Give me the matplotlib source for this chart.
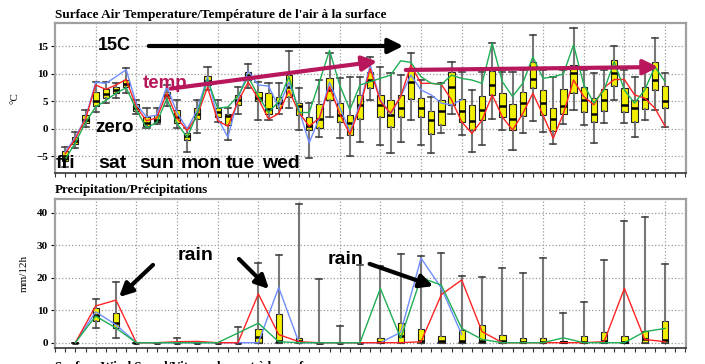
import matplotlib
matplotlib.use("Agg")
import matplotlib.pyplot as plt

plt.rcParams['font.family'] = ['Liberation Serif', 'DejaVu Serif']
plt.rcParams['font.weight'] = 'bold'

# ---- temperature ensemble, one box every 6h (degC) ----
t_lo = [-7.0, -3.5, 0.4, 3.1, 4.7, 5.6, 6.5, 2.8, 0.1, 0.9, 4.1, 0.1, -4.1, -0.8, 7.1, 1.3, -2.0, 2.8, 7.4, 1.6,
        1.6, 2.8, 3.8, -0.2, -5.3, -1.4, 2.2, -1.7, -5.0, -2.3, 5.3, -2.9, -4.4, -2.3, 1.6, -2.9, -4.3, -0.8, 2.7, -1.1,
        -4.1, -2.9, 1.9, -0.2, -3.8, -0.8, 1.5, -0.5, -2.7, 0.9, 3.5, 0.7, -2.6, 1.0, 5.3, 1.0, -1.4, 1.6, 3.5, 0.4]
t_q1 = [-5.8, -2.7, 1.0, 4.1, 5.6, 6.5, 7.6, 3.3, 0.5, 1.2, 5.6, 1.0, -2.0, 1.8, 8.0, 2.2, 0.7, 4.4, 8.9, 5.0,
        2.8, 3.8, 5.9, 2.5, -0.2, 0.1, 5.3, 1.3, -1.1, 1.9, 7.4, 2.2, 0.3, 2.2, 5.4, 2.1, -0.9, 0.7, 4.4, 1.3,
        -0.2, 1.6, 6.2, 2.2, -0.1, 2.3, 7.4, 2.5, -0.3, 2.8, 6.6, 3.1, 1.2, 3.3, 7.8, 3.1, 1.3, 3.6, 7.0, 3.8]
t_med = [-5.0, -2.1, 1.7, 5.0, 6.4, 7.0, 8.1, 3.9, 1.0, 1.6, 6.2, 2.2, -1.3, 2.7, 8.7, 3.0, 2.3, 5.3, 9.9, 5.6,
         3.6, 4.8, 7.7, 4.2, 0.5, 1.8, 7.1, 2.5, 1.0, 4.3, 8.9, 4.4, 2.5, 3.9, 8.6, 3.9, 1.6, 3.3, 7.7, 3.3,
         1.5, 3.5, 8.0, 4.2, 1.9, 4.7, 9.0, 4.8, 1.9, 4.1, 10.1, 5.3, 2.8, 5.3, 10.1, 4.4, 3.8, 5.4, 8.9, 5.0]
t_q3 = [-4.0, -1.4, 2.5, 6.7, 7.2, 7.6, 8.9, 4.5, 2.1, 2.5, 6.8, 3.5, -0.8, 3.8, 9.6, 3.8, 2.8, 6.2, 10.4, 6.8,
        6.6, 5.8, 9.8, 4.7, 2.2, 4.5, 9.2, 4.7, 2.5, 6.1, 10.4, 6.2, 5.3, 6.2, 11.0, 5.6, 3.3, 5.3, 10.4, 5.4,
        4.4, 6.0, 10.6, 6.6, 4.5, 6.8, 12.1, 7.0, 3.8, 7.2, 11.6, 7.7, 5.6, 7.2, 12.5, 7.4, 5.3, 7.7, 12.1, 7.8]
t_hi = [-3.3, -0.5, 3.5, 8.6, 8.6, 8.3, 11.0, 5.3, 3.9, 3.9, 8.0, 5.3, 0.1, 5.3, 11.3, 5.3, 3.8, 7.7, 11.9, 8.6,
        8.3, 8.3, 14.1, 7.5, 4.7, 8.9, 13.8, 9.2, 9.5, 9.5, 13.1, 11.3, 10.1, 9.8, 13.9, 8.9, 5.9, 8.3, 12.2, 10.4,
        7.1, 10.4, 15.6, 10.4, 10.4, 10.7, 17.0, 10.7, 9.5, 10.7, 18.3, 10.7, 10.1, 10.7, 15.0, 10.7, 9.5, 10.7, 16.5, 10.1]

t_blue = [-4.2, -1.5, 2.0, 8.5, 8.3, 9.5, 10.8, 4.5, 2.2, 2.5, 7.7, 3.0, 0.0, 3.5, 9.5, 2.0, -1.5, 5.5, 10.5, 8.0,
          7.8, 4.0, 8.5, 3.5, -2.5, 2.0, 8.5, 4.0, -0.5, 4.5, 11.6, 5.3, 2.7, 5.9, 9.8, 7.1, 6.2, 4.7, 4.4, 5.3]
t_red = [-4.5, -1.8, 1.8, 8.0, 7.2, 8.0, 9.0, 4.0, 1.5, 2.0, 6.5, 2.0, -0.3, 2.5, 7.6, 1.5, 0.5, 5.0, 8.5, 5.5,
         1.8, 2.8, 7.0, 3.0, 0.5, 2.0, 7.7, 2.8, -1.0, 4.0, 11.0, 5.0, 2.9, 5.9, 11.6, 8.3, 8.3, 8.1, 5.3, 1.3,
         -0.8, 1.6, 6.2, 2.2, -0.2, 2.8, 6.5, 2.5, -1.7, 2.8, 8.9, 5.9, 4.4, 7.5, 9.0, 9.0, 6.2, 5.6, 3.8, 0.5]
t_green = [-5.5, -2.5, 1.2, 4.0, 5.2, 6.5, 7.5, 3.5, 0.2, 1.2, 5.5, 1.0, -1.5, 2.8, 9.0, 3.8, 4.0, 6.0, 9.5, 6.0,
           3.0, 5.0, 9.5, 3.0, 3.0, 8.5, 14.3, 8.0, 3.5, 8.0, 8.6, 9.2, 9.8, 12.4, 12.1, 9.5, 8.3, 8.1, 9.8, 9.2,
           8.9, 8.3, 15.6, 8.6, 5.9, 8.3, 13.1, 9.2, 9.5, 10.0, 15.3, 8.1, 4.7, 7.1, 12.2, 7.1, 4.7, 7.1, 11.3, 8.6]

# ---- precipitation ensemble, one box every 12h (mm/12h) ----
p_lo = [0, 4.6, 1.5] + [0] * 27
p_q1 = [0, 6.7, 4.6] + [0] * 27
p_med = [0, 8.5, 6.0, 0, 0, 0, 0, 0, 0, 1.8, 0.5, 0.5, 0, 0, 0,
         0.3, 2.0, 0.5, 0.4, 0.5, 0.5, 0.4, 0.3, 0.3, 0.1, 0.3, 0.4, 0.3, 1.0, 0.8]
p_q3 = [0, 10.6, 9.0, 0, 0, 0, 0, 0, 0.3, 4.2, 8.7, 1.3, 0, 0.2, 0,
        1.4, 6.0, 4.2, 2.2, 3.9, 5.4, 2.4, 1.4, 1.4, 0.4, 2.2, 3.3, 2.2, 3.5, 6.6]
p_hi = [0, 13.4, 18.6, 0, 0, 1.3, 0, 0, 4.9, 24.4, 27.0, 42.7, 19.5, 5.2, 23.9,
        23.7, 27.2, 26.7, 27.5, 20.6, 20.3, 22.9, 21.3, 26.2, 9.0, 12.4, 25.4, 37.4, 38.8, 24.1]

p_blue = [0, 9.5, 5.5, 0, 0, 0, 0, 0, 0, 0, 17.0, 0, 0, 0, 0, 0, 3.2, 26.0, 16.8, 2.5]
p_red = [0, 11.3, 13.1, 0, 0, 0.3, 0.4, 0, 0, 15.0, 2.5, 0.3, 0, 0, 0,
         0, 0, 0.3, 14.8, 19.3, 3.4, 0, 0, 0, 0, 0, 0.3, 16.7, 1.0, 0.3]
p_green = [0, 8.2, 4.5, 0, 0, 0, 0, 0, 3.0, 6.0, 0.3, 0, 0, 0, 0,
           16.7, 1.4, 20.0, 17.7, 4.4, 1.0, 0, 0, 0, 1.5, 0, 0, 0, 3.4, 4.4]

BLUE, RED, GREEN = '#6f8dff', '#ff2424', '#1fae55'
CRIMSON = '#b8175c'
H = 364


def stats(lo, q1, med, q3, hi):
    return [dict(whislo=a, q1=b, med=c, q3=d, whishi=e, fliers=[])
            for a, b, c, d, e in zip(lo, q1, med, q3, hi)]


def style_axes(ax, ylim, yticks):
    ax.set_xlim(-0.98, 61.06)
    ax.set_ylim(*ylim)
    ax.set_yticks(yticks)
    ax.set_xticks(range(-1, 62))
    ax.set_xticklabels([])
    ax.tick_params(axis='x', length=3, width=0.8, color='#333333')
    ax.tick_params(axis='y', length=3, width=0.8, labelsize=8, pad=2)
    for x in range(3, 60, 4):
        ax.axvline(x, color='#9a9a9a', lw=0.9, ls=':', zorder=0)
    for y in yticks:
        ax.axhline(y, color='#9a9a9a', lw=0.9, ls=':', zorder=0)
    for s in ['top', 'right', 'left']:
        ax.spines[s].set_color('#a0a0a0')
        ax.spines[s].set_linewidth(1.6)
    ax.spines['bottom'].set_color('#333333')
    ax.spines['bottom'].set_linewidth(1.2)


def boxes(ax, st, pos):
    ax.bxp(st, positions=pos, widths=0.62, patch_artist=True, showfliers=False,
           manage_ticks=False, capwidths=0.6,
           boxprops=dict(facecolor='#f2f000', edgecolor='#222222', linewidth=0.8),
           medianprops=dict(color='black', linewidth=1.8),
           whiskerprops=dict(color='#777777', linewidth=1.5),
           capprops=dict(color='#444444', linewidth=1.2), zorder=2)


fig = plt.figure(figsize=(7.05, 3.64), dpi=100)
fig.patch.set_facecolor('white')

# ---------------- temperature ----------------
ax1 = fig.add_axes([55 / 705, (H - 173) / H, 631 / 705, 150.5 / H])
style_axes(ax1, (-8.0, 19.36), [-5, 0, 5, 10, 15])
boxes(ax1, stats(t_lo, t_q1, t_med, t_q3, t_hi), list(range(len(t_med))))
ax1.plot(range(len(t_blue)), t_blue, color=BLUE, lw=1.0, zorder=3)
ax1.plot(range(len(t_red)), t_red, color=RED, lw=1.0, zorder=3)
ax1.plot(range(len(t_green)), t_green, color=GREEN, lw=1.0, zorder=3)
ax1.set_ylabel('°C', fontsize=8, labelpad=12)

# ---------------- precipitation ----------------
ax2 = fig.add_axes([55 / 705, (H - 348) / H, 631 / 705, 149 / H])
style_axes(ax2, (-1.63, 44.2), [0, 10, 20, 30, 40])
p_pos = [2 * j + 1 for j in range(len(p_med))]
boxes(ax2, stats(p_lo, p_q1, p_med, p_q3, p_hi), p_pos)
ax2.plot(p_pos[:len(p_blue)], p_blue, color=BLUE, lw=1.0, zorder=3)
ax2.plot(p_pos, p_red, color=RED, lw=1.0, zorder=3)
ax2.plot(p_pos, p_green, color=GREEN, lw=1.0, zorder=3)
ax2.set_ylabel('mm/12h', fontsize=8, labelpad=6)

# ---------------- titles ----------------
fig.text(55 / 705, (H - 18) / H, "Surface Air Temperature/Température de l'air à la surface",
         fontsize=9.5, fontweight='bold', va='baseline')
fig.text(55 / 705, (H - 193) / H, "Precipitation/Précipitations",
         fontsize=9.4, fontweight='bold', va='baseline')
# the next panel's title is cut by the bottom edge, as in the original
fig.text(55 / 705, (H - 370) / H, "Surface Wind Speed/Vitesse du vent à la surface",
         fontsize=9.4, fontweight='bold', va='baseline')

# ---------------- hand-drawn notes ----------------
sans = dict(family='Liberation Sans', fontweight='bold', zorder=6)


def fp(px, py):
    return (px, H - py)


def arrow(p0, p1, color='black', lw=3.0, ms=22):
    fig.add_artist(matplotlib.patches.FancyArrowPatch(
        fp(*p0), fp(*p1), transform=None, arrowstyle='-|>', color=color,
        lw=lw, mutation_scale=ms, zorder=6))


fig.text(98 / 705, (H - 46) / H, '15C', fontsize=13, va='center', **sans)
arrow((146, 46), (406, 46))
fig.text(143 / 705, (H - 83) / H, 'temp', fontsize=13.5, va='center', color=CRIMSON, **sans)
arrow((168, 89), (380, 61), color=CRIMSON)
arrow((403, 70), (661, 67), color=CRIMSON)
fig.text(95 / 705, (H - 128) / H, 'zero', fontsize=13.5, va='center', **sans)
for word, px in [('fri', 56), ('sat', 98), ('sun', 139), ('mon', 181), ('tue', 226), ('wed', 262)]:
    fig.text(px / 705, (H - 163) / H, word, fontsize=14, va='center', **sans)

fig.text(178 / 705, (H - 255) / H, 'rain', fontsize=14, va='center', **sans)
fig.text(328 / 705, (H - 259) / H, 'rain', fontsize=14, va='center', **sans)
arrow((155, 263), (117, 299), ms=20)
arrow((237, 257), (271, 291), ms=20)
arrow((367, 263), (436, 287), ms=20)

fig.savefig('out.png', dpi=100, facecolor='white')
